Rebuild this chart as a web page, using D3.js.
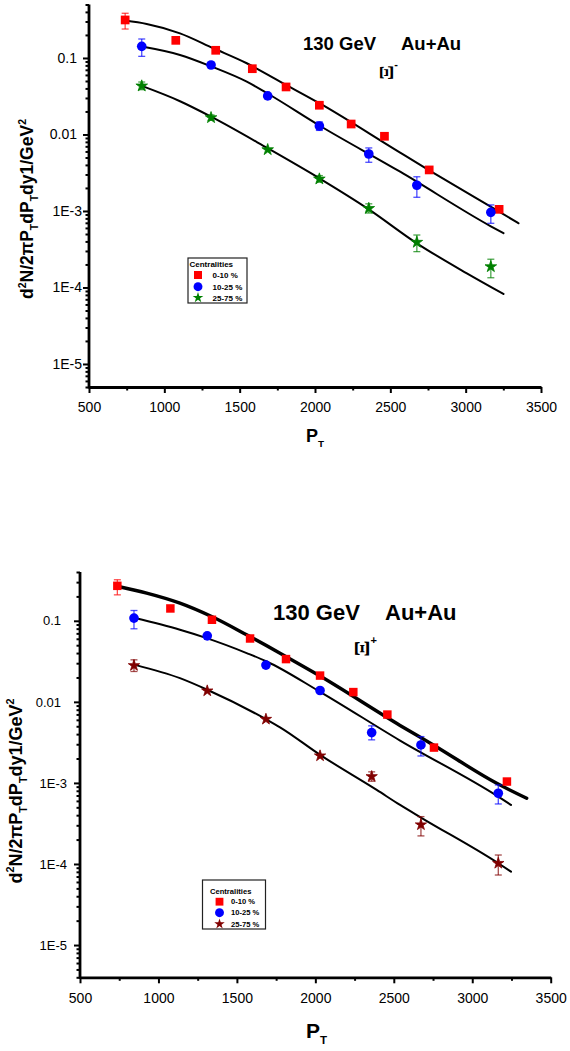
<!DOCTYPE html>
<html>
<head>
<meta charset="utf-8">
<script src="https://cdn.jsdelivr.net/npm/d3@7"></script>
<style>
  body { margin: 0; background: #fff; }
  svg { display: block; }
  text { font-family: Arial, "Liberation Sans", sans-serif; fill: #000; }
</style>
</head>
<body>
<svg id="chart" width="570" height="1051"></svg>
<script>
// ---- shared axis definitions ----
const ptTicks = [500, 1000, 1500, 2000, 2500, 3000, 3500];
const ptMinorTicks = [750, 1250, 1750, 2250, 2750, 3250];
const yieldTicks = [0.1, 0.01, 1e-3, 1e-4, 1e-5];
const yieldTickLabels = ["0.1", "0.01", "1E-3", "1E-4", "1E-5"];
const centralityLabels = ["0-10 %", "10-25 %", "25-75 %"];

// ---- Xi- spectra, 130 GeV Au+Au ----
const xmPt0 = [740, 1076, 1341, 1584, 1808, 2029, 2240, 2461, 2758, 3222];
const xmY0  = [0.314, 0.170, 0.126, 0.0724, 0.0418, 0.0241, 0.0137, 0.00947, 0.00344, 0.00105];
const xmLo0 = [0.239, null, null, null, null, null, null, null, null, null];
const xmHi0 = [0.384, null, null, null, null, null, null, null, null, null];

const xmPt1 = [850, 1310, 1686, 2029, 2357, 2676, 3167];
const xmY1  = [0.142, 0.081, 0.0319, 0.0129, 0.00556, 0.00217, 0.00096];
const xmLo1 = [0.105, null, null, 0.0113, 0.00433, 0.00151, 0.00069];
const xmHi1 = [0.177, null, null, 0.0146, 0.00667, 0.0028, 0.0012];

const xmPt2 = [850, 1310, 1686, 2029, 2357, 2676, 3167];
const xmY2  = [0.0431, 0.0166, 0.00633, 0.00262, 0.00108, 0.00039, 0.000187];
const xmLo2 = [0.0385, 0.0153, null, 0.00238, 0.00094, 0.000294, 0.000134];
const xmHi2 = [0.0485, 0.018, null, 0.0029, 0.00124, 0.000485, 0.000234];

// model curves for Xi-
const xmFitPt0 = [739, 883, 1104, 1325, 1547, 1768, 2029, 2565, 2758, 3222, 3351];
const xmFitY0  = [0.308, 0.278, 0.210, 0.134, 0.0853, 0.049, 0.0256, 0.00578, 0.0034, 0.00098, 0.00069];
const xmFitPt1 = [850, 1104, 1315, 1547, 1691, 2029, 2565, 3167, 3251];
const xmFitY1  = [0.141, 0.1094, 0.077, 0.049, 0.0338, 0.0131, 0.00326, 0.00063, 0.000512];
const xmFitPt2 = [850, 1104, 1310, 1686, 2029, 2357, 2676, 3008, 3251];
const xmFitY2  = [0.0431, 0.0272, 0.0171, 0.0066, 0.00267, 0.00105, 0.000378, 0.000153, 0.0000822];

// ---- Xi+ spectra, 130 GeV Au+Au ----
const xpPt0 = [738, 1076, 1341, 1584, 1813, 2030, 2242, 2459, 2756, 3221];
const xpY0  = [0.270, 0.142, 0.103, 0.0605, 0.0337, 0.0211, 0.0132, 0.00697, 0.00273, 0.00104];
const xpLo0 = [0.209, null, null, null, null, null, null, null, null, null];
const xpHi0 = [0.321, null, null, null, null, null, null, null, null, null];

const xpPt1 = [844, 1311, 1685, 2030, 2359, 2673, 3166];
const xpY1  = [0.108, 0.0653, 0.0284, 0.0138, 0.00418, 0.00294, 0.000746];
const xpLo1 = [0.0797, null, null, null, 0.0034, 0.00215, 0.00055];
const xpHi1 = [0.134, null, null, null, 0.00506, 0.00373, 0.000945];

const xpPt2 = [844, 1311, 1685, 2030, 2359, 2673, 3166];
const xpY2  = [0.0281, 0.01368, 0.00611, 0.00216, 0.0012, 0.000305, 0.000102];
const xpLo2 = [0.0237, null, null, null, 0.00105, 0.000222, 0.0000731];
const xpHi2 = [0.033, null, null, null, 0.00137, 0.000384, 0.000129];

// model curves for Xi+
const xpFitPt0 = [744, 925, 1137, 1339, 1562, 1775, 2030, 2540, 2752, 3156, 3347];
const xpFitY0  = [0.265, 0.220, 0.1654, 0.113, 0.0672, 0.0399, 0.0208, 0.00512, 0.00294, 0.00099, 0.000647];
const xpFitPt1 = [851, 1137, 1307, 1562, 1690, 2030, 2540, 3166, 3247];
const xpFitY1  = [0.108, 0.0774, 0.0611, 0.040, 0.0315, 0.0133, 0.00333, 0.000677, 0.000535];
const xpFitPt2 = [851, 1137, 1311, 1685, 1775, 2030, 2391, 2540, 2673, 3166, 3247];
const xpFitY2  = [0.0286, 0.0196, 0.0141, 0.00611, 0.00485, 0.00222, 0.00082, 0.000535, 0.000374, 0.000102, 0.0000804];

const svg = d3.select("#chart");

function minorLogTicks(domain) {
  const out = [];
  for (let e = -7; e <= 0; e++) {
    for (let m = 2; m <= 9; m++) {
      const v = +(m + "e" + e);
      if (v >= domain[0] * 0.999 && v <= domain[1] * 1.001) out.push(v);
    }
  }
  return out;
}

function drawPanel(cfg) {
  const g = svg.append("g");
  const x = d3.scaleLinear().domain([500, 3500]).range([cfg.left, cfg.right]);
  const y = d3.scaleLog().domain(cfg.yDomain).range([cfg.bottom, cfg.top]);

  // minor ticks
  g.append("g")
    .attr("transform", `translate(0,${cfg.bottom})`)
    .call(d3.axisBottom(x).tickValues(ptMinorTicks).tickFormat("").tickSize(3.5).tickSizeOuter(0))
    .call(a => a.select(".domain").remove())
    .call(a => a.selectAll("line").attr("stroke-width", 2));
  g.append("g")
    .attr("transform", `translate(${cfg.left},0)`)
    .call(d3.axisLeft(y).tickValues(minorLogTicks(cfg.yDomain)).tickFormat("").tickSize(3.5).tickSizeOuter(0))
    .call(a => a.select(".domain").remove())
    .call(a => a.selectAll("line").attr("stroke-width", 2));

  // major x axis
  g.append("g")
    .attr("transform", `translate(0,${cfg.bottom})`)
    .call(d3.axisBottom(x).tickValues(ptTicks).tickFormat(d3.format("d")).tickSize(6).tickPadding(cfg.xPad).tickSizeOuter(0))
    .call(a => a.select(".domain").attr("stroke-width", 2.8))
    .call(a => a.selectAll("line").attr("stroke-width", 2))
    .call(a => a.selectAll("text").style("font-size", "14px").attr("fill", "#000").style("font-family", "Arial, 'Liberation Sans', sans-serif"));

  // major y axis
  g.append("g")
    .attr("transform", `translate(${cfg.left},0)`)
    .call(d3.axisLeft(y).tickValues(yieldTicks).tickFormat((d, i) => yieldTickLabels[i]).tickSize(6).tickPadding(cfg.yPadDec).tickSizeOuter(0))
    .call(a => a.select(".domain").attr("stroke-width", 2.8)
      .attr("d", `M0,${cfg.top}V${cfg.bottom + 1.4}`))
    .call(a => a.selectAll("line").attr("stroke-width", 2))
    .call(a => a.selectAll("text")
      .style("font-size", cfg.yFont + "px").attr("fill", "#000")
      .style("font-family", "Arial, 'Liberation Sans', sans-serif")
      .attr("dx", (d, i) => yieldTickLabels[i].startsWith("1E") ? cfg.expShift : 0));

  // x label P_T
  const xl = g.append("text")
    .attr("x", cfg.xLabel[0]).attr("y", cfg.xLabel[1])
    .style("font-weight", "bold").style("font-size", cfg.xLabelFont + "px");
  xl.append("tspan").text("P");
  xl.append("tspan").attr("dy", cfg.xLabelFont * 0.3).style("font-size", (cfg.xLabelFont * 0.55) + "px").text("T");

  // y label
  const fs = cfg.yLabelFont;
  const sub = fs * 0.6, up = fs * 0.42, dn = fs * 0.28;
  const yl = g.append("text")
    .attr("transform", `translate(${cfg.yLabel[0]},${cfg.yLabel[1]}) rotate(-90)`)
    .attr("text-anchor", "middle")
    .style("font-weight", "bold").style("font-size", fs + "px");
  yl.append("tspan").text("d");
  yl.append("tspan").attr("dy", -up).style("font-size", sub + "px").text("2");
  yl.append("tspan").attr("dy", up).text("N/2\u03C0P");
  yl.append("tspan").attr("dy", dn).style("font-size", sub + "px").text("T");
  yl.append("tspan").attr("dy", -dn).text("dP");
  yl.append("tspan").attr("dy", dn).style("font-size", sub + "px").text("T");
  yl.append("tspan").attr("dy", -dn).text("dy1/GeV");
  yl.append("tspan").attr("dy", -up).style("font-size", sub + "px").text("2");

  // title
  g.append("text").attr("x", cfg.title1[0]).attr("y", cfg.title1[1])
    .style("font-weight", "bold").style("font-size", cfg.titleFont + "px").text("130 GeV");
  g.append("text").attr("x", cfg.title2[0]).attr("y", cfg.title2[1])
    .style("font-weight", "bold").style("font-size", cfg.titleFont + "px").text("Au+Au");

  // particle symbol (rotated Xi) with charge
  g.append("text")
    .attr("transform", `translate(${cfg.xi[0]},${cfg.xi[1]}) rotate(-90) scale(1.15,1)`)
    .attr("text-anchor", "middle").attr("dy", "0.33em")
    .style("font-family", "'Liberation Serif', 'DejaVu Serif', serif")
    .style("font-weight", "bold").style("font-size", cfg.xiFont + "px").text("\u039E");
  g.append("text").attr("x", cfg.charge[0]).attr("y", cfg.charge[1])
    .attr("text-anchor", "middle")
    .style("font-weight", "bold").style("font-size", cfg.chargeFont + "px").text(cfg.chargeText);

  const line = d3.line().x(d => x(d[0])).y(d => y(d[1])).curve(d3.curveMonotoneX);

  // model curves
  cfg.series.forEach(s => {
    g.append("path")
      .datum(s.fitPt.map((p, i) => [p, s.fitY[i]]))
      .attr("d", line)
      .attr("fill", "none").attr("stroke", "#000")
      .attr("stroke-width", s.fitWidth).attr("stroke-linecap", "round");
  });

  // error bars
  cfg.series.forEach(s => {
    const pts = s.pt.map((p, i) => ({ p, lo: s.lo[i], hi: s.hi[i] })).filter(d => d.lo != null);
    const eb = g.append("g").attr("stroke", s.color).attr("stroke-opacity", 0.7).attr("stroke-width", 1.3);
    pts.forEach(d => {
      const cx = x(d.p), y1 = y(d.lo), y2 = y(d.hi);
      eb.append("line").attr("x1", cx).attr("x2", cx).attr("y1", y1).attr("y2", y2);
      eb.append("line").attr("x1", cx - 3.5).attr("x2", cx + 3.5).attr("y1", y1).attr("y2", y1);
      eb.append("line").attr("x1", cx - 3.5).attr("x2", cx + 3.5).attr("y1", y2).attr("y2", y2);
    });
  });

  // markers
  cfg.series.forEach(s => {
    g.append("g").selectAll("path")
      .data(s.pt.map((p, i) => [p, s.y[i]]))
      .join("path")
      .attr("transform", d => `translate(${x(d[0])},${y(d[1])})`)
      .attr("d", d3.symbol().type(s.symbol).size(s.size))
      .attr("fill", s.color)
      .attr("stroke", s.symbol === d3.symbolStar ? s.color : "none")
      .attr("stroke-width", 0.8).attr("stroke-linejoin", "round");
  });

  // legend
  const L = cfg.legend;
  const lg = g.append("g").attr("transform", `translate(${L.x},${L.y})`);
  lg.append("rect").attr("width", L.w).attr("height", L.h)
    .attr("fill", "#fff").attr("stroke", "#222").attr("stroke-width", 1.2);
  lg.append("text").attr("x", L.titleX).attr("y", L.titleY)
    .style("font-weight", "bold").style("font-size", L.font + "px").text("Centralities");
  cfg.series.forEach((s, i) => {
    const cy = L.rowY[i];
    lg.append("path").attr("transform", `translate(${L.markX},${cy})`)
      .attr("d", d3.symbol().type(s.symbol).size(s.size * 0.85)).attr("fill", s.color);
    lg.append("text").attr("x", L.textX).attr("y", cy).attr("dy", "0.35em")
      .style("font-weight", "bold").style("font-size", L.font + "px").text(centralityLabels[i]);
  });
}

drawPanel({
  left: 89, right: 541, top: 4.5, bottom: 387,
  yDomain: [5e-6, 0.5],
  xPad: 9, yPadDec: 6, yFont: 14, expShift: 5,
  xLabel: [306, 442], xLabelFont: 18,
  yLabel: [33, 209], yLabelFont: 17.5,
  title1: [303, 50], title2: [401, 50], titleFont: 18.5,
  xi: [386.5, 72.5], xiFont: 19,
  charge: [396, 68], chargeFont: 11, chargeText: "-",
  legend: { x: 188, y: 258, w: 59, h: 45, titleX: 1.5, titleY: 8.5, font: 8, markX: 10, textX: 24.5, rowY: [17, 28.7, 39.7] },
  series: [
    { pt: xmPt0, y: xmY0, lo: xmLo0, hi: xmHi0, fitPt: xmFitPt0, fitY: xmFitY0, color: "#ff0000", symbol: d3.symbolSquare, size: 76, fitWidth: 2 },
    { pt: xmPt1, y: xmY1, lo: xmLo1, hi: xmHi1, fitPt: xmFitPt1, fitY: xmFitY1, color: "#0000ff", symbol: d3.symbolCircle, size: 73, fitWidth: 2 },
    { pt: xmPt2, y: xmY2, lo: xmLo2, hi: xmHi2, fitPt: xmFitPt2, fitY: xmFitY2, color: "#008000", symbol: d3.symbolStar, size: 42, fitWidth: 2 }
  ]
});

drawPanel({
  left: 80, right: 550.7, top: 572, bottom: 977.3,
  yDomain: [4e-6, 0.4],
  xPad: 10, yPadDec: 13, yFont: 13, expShift: 6,
  xLabel: [306, 1038], xLabelFont: 21,
  yLabel: [22, 791], yLabelFont: 18,
  title1: [273, 620], title2: [385, 620], titleFont: 22,
  xi: [362, 648.5], xiFont: 21,
  charge: [373.8, 643.5], chargeFont: 11, chargeText: "+",
  legend: { x: 202.5, y: 880, w: 63, h: 49, titleX: 7.5, titleY: 13.5, font: 7.6, markX: 17, textX: 28.5, rowY: [21.7, 32.7, 44] },
  series: [
    { pt: xpPt0, y: xpY0, lo: xpLo0, hi: xpHi0, fitPt: xpFitPt0, fitY: xpFitY0, color: "#ff0000", symbol: d3.symbolSquare, size: 72, fitWidth: 3.4 },
    { pt: xpPt1, y: xpY1, lo: xpLo1, hi: xpHi1, fitPt: xpFitPt1, fitY: xpFitY1, color: "#0000ff", symbol: d3.symbolCircle, size: 73, fitWidth: 2 },
    { pt: xpPt2, y: xpY2, lo: xpLo2, hi: xpHi2, fitPt: xpFitPt2, fitY: xpFitY2, color: "#800000", symbol: d3.symbolStar, size: 40, fitWidth: 2 }
  ]
});
</script>
</body>
</html>
